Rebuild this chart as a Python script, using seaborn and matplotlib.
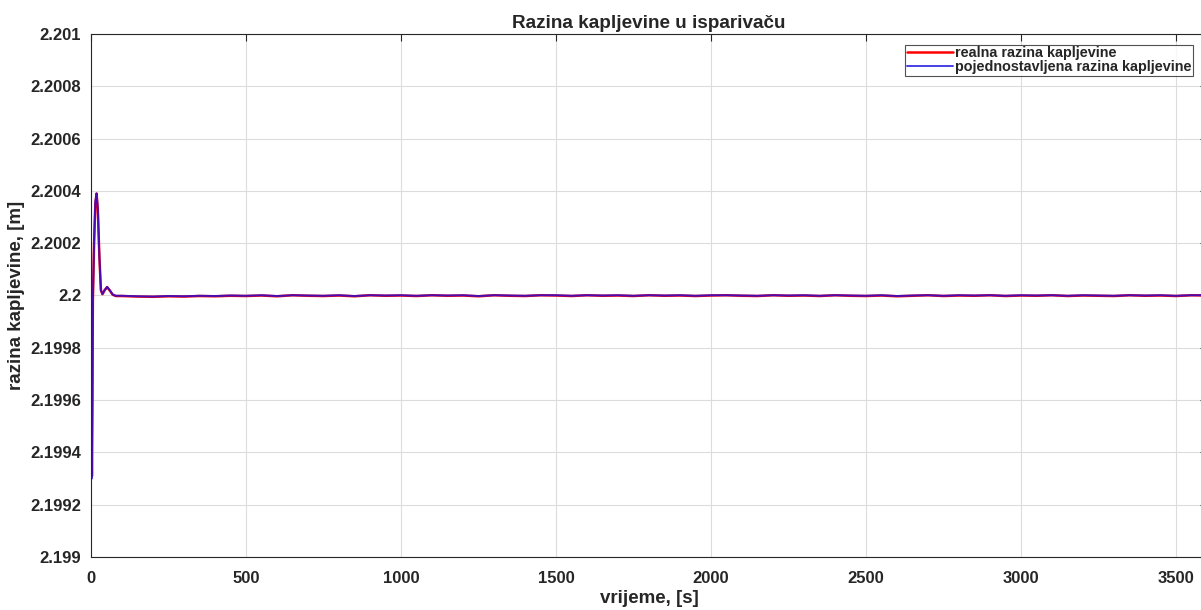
import matplotlib
matplotlib.use("Agg")
import matplotlib.pyplot as plt
import seaborn as sns
import pandas as pd

# vrijeme [s]
time_s = [0, 1.5, 3, 4.5, 6, 10, 14, 18, 22, 27, 32, 37, 44, 52, 60, 70, 80,
          100, 150, 200, 250, 300, 350, 400, 450, 500, 550, 600, 650, 700, 750,
          800, 850, 900, 950, 1000, 1050, 1100, 1150, 1200, 1250, 1300, 1350,
          1400, 1450, 1500, 1550, 1600, 1650, 1700, 1750, 1800, 1850, 1900,
          1950, 2000, 2050, 2100, 2150, 2200, 2250, 2300, 2350, 2400, 2450,
          2500, 2550, 2600, 2650, 2700, 2750, 2800, 2850, 2900, 2950, 3000,
          3050, 3100, 3150, 3200, 3250, 3300, 3350, 3400, 3450, 3500, 3550,
          3600]

# realna razina kapljevine [m]
level_real = [2.2, 2.19960, 2.19931, 2.19960, 2.19998, 2.20020, 2.20035, 2.20039,
              2.20033, 2.20015, 2.20002, 2.200005, 2.200020, 2.200032, 2.200020,
              2.200003, 2.199998,
              2.199998, 2.199996, 2.199995, 2.199997, 2.199996, 2.199998,
              2.199997, 2.199999, 2.199998, 2.200000, 2.199997, 2.200001,
              2.199999, 2.199998, 2.200000, 2.199997, 2.200001, 2.199999,
              2.200000, 2.199998, 2.200001, 2.199999, 2.200000, 2.199997,
              2.200001, 2.199999, 2.199998, 2.200001, 2.200000, 2.199998,
              2.200001, 2.199999, 2.200000, 2.199998, 2.200001, 2.199999,
              2.200000, 2.199998, 2.200000, 2.200001, 2.199999, 2.199998,
              2.200001, 2.199999, 2.200000, 2.199998, 2.200001, 2.199999,
              2.199998, 2.200000, 2.199997, 2.199999, 2.200001, 2.199998,
              2.200000, 2.199999, 2.200001, 2.199998, 2.200000, 2.199999,
              2.200001, 2.199998, 2.200000, 2.199999, 2.199998, 2.200001,
              2.199999, 2.200000, 2.199998, 2.200001, 2.200000]

# pojednostavljena razina kapljevine [m]
level_simple = [2.2, 2.19958, 2.19930, 2.19958, 2.19998, 2.20021, 2.20036, 2.20039,
                2.20033, 2.20015, 2.20002, 2.200006, 2.200021, 2.200033, 2.200021,
                2.200004, 2.199999,
                2.199999, 2.199997, 2.199996, 2.199998, 2.199997, 2.199999,
                2.199998, 2.200000, 2.199999, 2.200001, 2.199998, 2.200001,
                2.200000, 2.199999, 2.200001, 2.199998, 2.200001, 2.200000,
                2.200001, 2.199999, 2.200001, 2.200000, 2.200001, 2.199998,
                2.200001, 2.200000, 2.199999, 2.200001, 2.200001, 2.199999,
                2.200001, 2.200000, 2.200001, 2.199999, 2.200001, 2.200000,
                2.200001, 2.199999, 2.200001, 2.200001, 2.200000, 2.199999,
                2.200001, 2.200000, 2.200001, 2.199999, 2.200001, 2.200000,
                2.199999, 2.200001, 2.199998, 2.200000, 2.200001, 2.199999,
                2.200001, 2.200000, 2.200001, 2.199999, 2.200001, 2.200000,
                2.200001, 2.199999, 2.200001, 2.200000, 2.199999, 2.200001,
                2.200000, 2.200001, 2.199999, 2.200001, 2.200001]

tick_x = [0, 500, 1000, 1500, 2000, 2500, 3000, 3500]
tick_y = [2.199, 2.1992, 2.1994, 2.1996, 2.1998, 2.2, 2.2002, 2.2004,
          2.2006, 2.2008, 2.201]
tick_y_labels = ["2.199", "2.1992", "2.1994", "2.1996", "2.1998", "2.2",
                 "2.2002", "2.2004", "2.2006", "2.2008", "2.201"]

df = pd.DataFrame({"t": time_s, "real": level_real, "simple": level_simple})

sns.set_style("whitegrid")
plt.rcParams["font.family"] = ["Liberation Sans", "DejaVu Sans"]
plt.rcParams["font.weight"] = "bold"

fig = plt.figure(figsize=(12.01, 6.10), dpi=100)
# os ide malo preko desnog ruba slike (kao u originalu)
ax = fig.add_axes([91 / 1201, 53 / 610, 1116 / 1201, 523 / 610])

sns.lineplot(data=df, x="t", y="real", ax=ax, color="#ff0000", linewidth=1.8,
             label="realna razina kapljevine")
sns.lineplot(data=df, x="t", y="simple", ax=ax, color="#1a10e0", linewidth=1.4,
             alpha=0.8, label="pojednostavljena razina kapljevine")

ax.set_xlim(0, 3600)
ax.set_ylim(2.199, 2.201)
ax.set_xticks(tick_x)
ax.set_xticklabels([str(v) for v in tick_x])
ax.set_yticks(tick_y)
ax.set_yticklabels(tick_y_labels)

ax.grid(True, color="#dcdcdc", linewidth=0.8)
for side in ["left", "bottom", "top", "right"]:
    ax.spines[side].set_color("#262626")
    ax.spines[side].set_linewidth(0.8)
ax.tick_params(axis="both", direction="in", length=5, width=0.8, colors="#262626",
               labelsize=12, top=True, right=True)
ax.tick_params(axis="x", pad=10)
ax.tick_params(axis="y", pad=7)
for lbl in ax.get_xticklabels() + ax.get_yticklabels():
    lbl.set_fontweight("bold")

ax.set_title("Razina kapljevine u isparivaču", fontsize=13.6, fontweight="bold", pad=4)
ax.set_xlabel("vrijeme, [s]", fontsize=13.5, fontweight="bold", labelpad=3)
ax.set_ylabel("razina kapljevine, [m]", fontsize=13.5, fontweight="bold", labelpad=4)

leg = ax.legend(loc="upper right", bbox_to_anchor=((1193 - 91) / 1116, 1 - 11 / 523),
                frameon=True, fancybox=False, prop={"weight": "bold", "size": 10.4},
                handlelength=3.2, borderpad=0.1, labelspacing=0.0, handletextpad=0.15,
                borderaxespad=0)
leg.get_frame().set_edgecolor("#262626")
leg.get_frame().set_linewidth(0.8)

fig.savefig("out.png", dpi=100)
